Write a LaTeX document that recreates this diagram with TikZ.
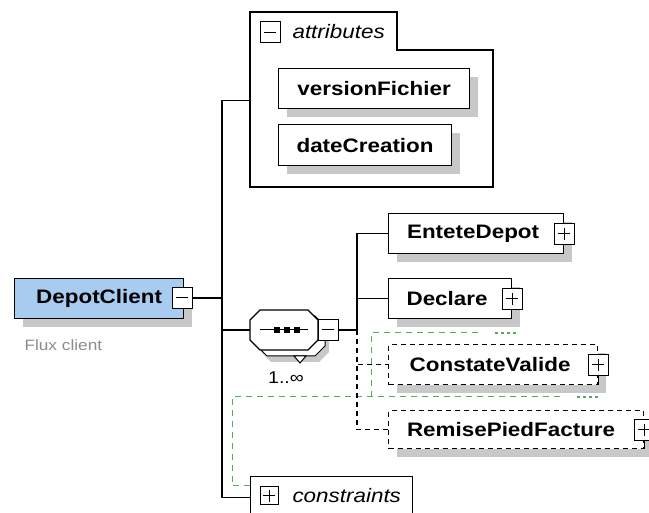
\documentclass[tikz,border=0pt]{standalone}
\usepackage{fontspec}
\setmainfont{Liberation Sans}[FakeStretch=1.15]
\usetikzlibrary{shadows}
\definecolor{elemblue}{RGB}{168,203,240}
\definecolor{shadowgray}{RGB}{200,200,200}
\definecolor{keygreen}{RGB}{90,170,90}
\tikzset{
  elem/.style={draw, line width=1.2pt, fill=white, anchor=north west, inner sep=0pt,
    font=\fontsize{19.5}{22}\selectfont\bfseries,
    drop shadow={shadow xshift=8pt, shadow yshift=-8pt, fill=shadowgray, opacity=1}},
  optelem/.style={elem, dash pattern=on 5pt off 4pt},
  group/.style={draw, line width=1.2pt, fill=white, anchor=north west, inner sep=0pt},
  pmbox/.style={draw, line width=1pt, fill=white, minimum width=20pt, minimum height=21pt, inner sep=0pt},
  conn/.style={line width=1.2pt},
  optconn/.style={conn, dash pattern=on 5pt off 4pt},
  keypath/.style={keygreen, line width=1pt, dash pattern=on 6pt off 5pt},
  keydots/.style={keygreen, line width=1.4pt, dash pattern=on 3pt off 3pt},
}
\begin{document}
\begin{tikzpicture}[x=1pt,y=-1pt]
  \useasboundingbox (0,0) rectangle (649,513);
  % key / selector paths
  \coordinate (sel-corner) at (232,397);
  \coordinate (sel-end) at (560,397);
  \coordinate (fld-foot) at (371,397);
  \coordinate (fld-end) at (480,333);
  % groups
  \draw[line width=1.2pt, fill=white]
    (250,187) -- (250,12) -- (397,12) -- (397,50) -- (493,50) -- (493,187) -- cycle;
  \node[minimum width=243pt, minimum height=176pt, inner sep=0pt, anchor=north west] (attributes) at (250,12) {};
  \node[pmbox] (attributes-pm) at (270,32.5) {};
  \node[anchor=west, font=\fontsize{19.5}{22}\selectfont\itshape] (attributes-label) at (289,32) {attributes};
  \node[group, minimum width=162pt, minimum height=42pt] (constraints) at (250,476) {};
  \node[pmbox, minimum width=18pt, minimum height=18pt] (constraints-pm) at (269,496) {};
  \node[anchor=west, font=\fontsize{19.5}{22}\selectfont\itshape] (constraints-label) at (289,496) {constraints};
  \draw[keypath] ([yshift=12pt]constraints.west) -| (sel-corner) -- (sel-end);
  \draw[keydots] (577,397) -- (598,397);
  \draw[keypath] (fld-foot) |- (fld-end);
  \draw[keydots] (495,333) -- (516,333);
  % elements
  \node[elem, fill=elemblue, minimum width=169pt, minimum height=40pt] (DepotClient) at (14,278) {DepotClient};
  \node[pmbox] (DepotClient-pm) at (182,298) {};
  \node[anchor=west, text=black!45, font=\fontsize{15}{18}\selectfont] (DepotClient-doc) at (21,345) {Flux client};
  \node[elem, minimum width=191pt, minimum height=40pt] (versionFichier) at (278,68) {versionFichier};
  \node[elem, minimum width=173pt, minimum height=41pt] (dateCreation) at (278,124) {dateCreation};
  \node[elem, minimum width=175pt, minimum height=40pt] (EnteteDepot) at (388,213) {\hspace*{-6pt}EnteteDepot};
  \node[elem, minimum width=123pt, minimum height=40pt] (Declare) at (388,278) {\hspace*{-6pt}Declare};
  \node[optelem, minimum width=209pt, minimum height=40pt] (ConstateValide) at (388,344) {\hspace*{-6pt}ConstateValide};
  \node[optelem, minimum width=255pt, minimum height=38pt] (RemisePiedFacture) at (388,410) {\hspace*{-10pt}RemisePiedFacture};
  \foreach \n in {EnteteDepot,Declare,ConstateValide,RemisePiedFacture}
    \node[pmbox] (\n-pm) at (\n.east) {};
  \foreach \n in {ConstateValide,RemisePiedFacture}
    \draw[line width=1pt] (\n-pm.south) -- (\n-pm.south |- \n.south);
  % sequence compositor
  \node[minimum width=68pt, minimum height=40pt, inner sep=0pt] (seq) at (284,330) {};
  \fill[shadowgray, shift={(11,12)}]
    (260,310) -- (308,310) -- (318,320) -- (318,340) -- (308,350) -- (260,350) -- (250,340) -- (250,320) -- cycle;
  \draw[line width=1pt, fill=white, shift={(7,6)}]
    (260,310) -- (308,310) -- (318,320) -- (318,340) -- (308,350) -- (260,350) -- (250,340) -- (250,320) -- cycle;
  \draw[line width=1pt, fill=white] (294,356) -- (306,356) -- (300,363) -- cycle;
  \draw[line width=1.2pt, fill=white]
    (260,310) -- (308,310) -- (318,320) -- (318,340) -- (308,350) -- (260,350) -- (250,340) -- (250,320) -- cycle;
  \draw[line width=1pt] (260,330) -- (308,330);
  \foreach \x in {277,287,297}
    \fill (\x-3,327) rectangle +(6,6);
  \node[pmbox] (seq-pm) at (328,330) {};
  \node[font=\fontsize{17}{20}\selectfont] (seq-occ) at (286,378) {1..∞};
  % plus / minus signs
  \foreach \n in {DepotClient-pm,attributes-pm,seq-pm}
    \draw[line width=1pt] ([xshift=-6pt]\n.center) -- ([xshift=6pt]\n.center);
  \foreach \n in {EnteteDepot-pm,Declare-pm,ConstateValide-pm,RemisePiedFacture-pm,constraints-pm} {
    \draw[line width=1pt] ([xshift=-6pt]\n.center) -- ([xshift=6pt]\n.center);
    \draw[line width=1pt] ([yshift=-6pt]\n.center) -- ([yshift=6pt]\n.center);
  }
  % connectors
  \coordinate (trunk) at (222,298);
  \coordinate (seqbar) at (357,330);
  \draw[conn] (DepotClient-pm.east) -- (trunk);
  \draw[conn] (attributes.west) -| (trunk) |- (constraints.west);
  \draw[conn] (trunk) |- (seq.west);
  \draw[conn] (seq-pm.east) -- (seqbar);
  \draw[conn] (seqbar) |- (EnteteDepot.west);
  \draw[conn] (seqbar) |- (Declare.west);
  \draw[optconn] (seqbar) |- (ConstateValide.west);
  \draw[optconn] (seqbar) |- (RemisePiedFacture.west);
\end{tikzpicture}
\end{document}
